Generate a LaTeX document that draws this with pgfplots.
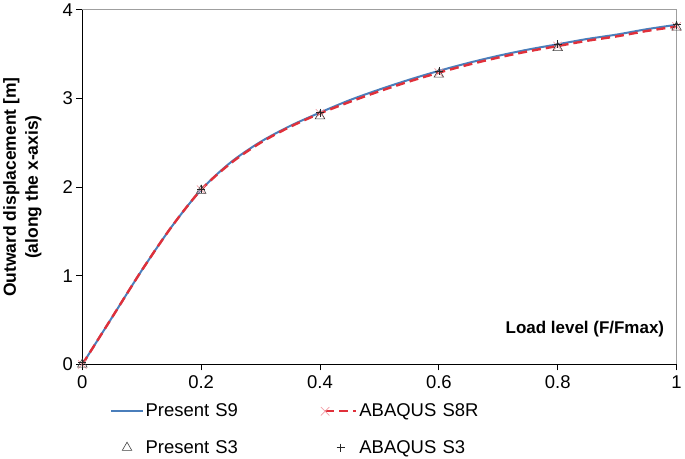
\documentclass[border=0pt]{standalone}
\usepackage{pgfplots}
\pgfplotsset{compat=1.18}
\usepackage{fontspec}
\setmainfont{Liberation Sans}
\definecolor{sblue}{HTML}{4A7EBB}
\definecolor{sred}{HTML}{E0303A}
\definecolor{spink}{HTML}{F2A0A8}
\begin{document}
\begin{tikzpicture}
\begin{axis}[
  scale only axis, width=593bp, height=354bp,
  xmin=0, xmax=1, ymin=0, ymax=4,
  xtick={0,0.2,0.4,0.6,0.8,1}, ytick={0,1,2,3,4},
  tick pos=left, tick align=outside, major tick length=6bp,
  tick style={black, line width=0.9bp},
  axis line style={draw=gray!75, line width=0.7bp},
  /pgf/number format/assume math mode=true,
  ticklabel style={font=\fontsize{18.5}{21}\selectfont},
  xticklabel style={yshift=-2bp},
  ylabel={Outward displacement [m]\\(along the x-axis)},
  ylabel style={align=center, font=\bfseries\fontsize{17.5}{22}\selectfont, yshift=14bp},
  legend columns=2,
  legend cell align=left,
  legend style={draw=none, fill=none, at={(0.042,-0.1)}, anchor=north west,
    font=\fontsize{18.5}{21}\selectfont, row sep=18bp,
    nodes={text width=153bp, align=left},
    /tikz/every even column/.append style={column sep=20bp}},
  legend image code/.code={\draw[mark repeat=2,mark phase=2,#1] plot coordinates {(0bp,0bp) (15.5bp,0bp) (31bp,0bp)};},
  clip=false
]
\addplot[sblue, line width=2bp, no marks, smooth, tension=0.5] coordinates {
 (0,0) (0.05,0.53) (0.1,1.06) (0.15,1.55) (0.2,1.97) (0.25,2.28) (0.3,2.51)
 (0.35,2.69) (0.4,2.84) (0.45,2.98) (0.5,3.10) (0.55,3.21) (0.6,3.31)
 (0.65,3.40) (0.7,3.48) (0.75,3.55) (0.8,3.61) (0.85,3.67) (0.9,3.72)
 (0.95,3.78) (1.0,3.83)};
\addlegendentry{Present S9}
\addplot[sred, line width=2.4bp, dash pattern=on 9bp off 5bp, mark=x,
  mark size=6bp, mark indices={1,5,9,13,17,21}, smooth, tension=0.5,
  mark options={spink, solid, line width=0.7bp}] coordinates {
 (0,0) (0.05,0.53) (0.1,1.06) (0.15,1.55) (0.2,1.97) (0.25,2.27) (0.3,2.50)
 (0.35,2.68) (0.4,2.83) (0.45,2.96) (0.5,3.08) (0.55,3.19) (0.6,3.29)
 (0.65,3.38) (0.7,3.46) (0.75,3.53) (0.8,3.59) (0.85,3.65) (0.9,3.70)
 (0.95,3.76) (1.0,3.81)};
\addlegendentry{ABAQUS S8R}
\addplot[only marks, mark=triangle, mark size=5.5bp, gray!50!black, mark options={line width=0.6bp}] coordinates {
 (0,0) (0.2,1.96) (0.4,2.80) (0.6,3.27) (0.8,3.57) (1.0,3.80)};
\addlegendentry{Present S3}
\addplot[only marks, mark=+, mark size=4bp, gray!30!black, mark options={line width=0.6bp}] coordinates {
 (0,0.02) (0.2,1.98) (0.4,2.84) (0.6,3.31) (0.8,3.61) (1.0,3.83)};
\addlegendentry{ABAQUS S3}
\draw[black, line width=1.3bp] (rel axis cs:0,1) -- (rel axis cs:0,0) -- (rel axis cs:1,0);
\node[anchor=east, font=\bfseries\fontsize{17}{20}\selectfont] at (rel axis cs:0.985,0.10) {Load level (F/Fmax)};
\end{axis}
\end{tikzpicture}
\end{document}
